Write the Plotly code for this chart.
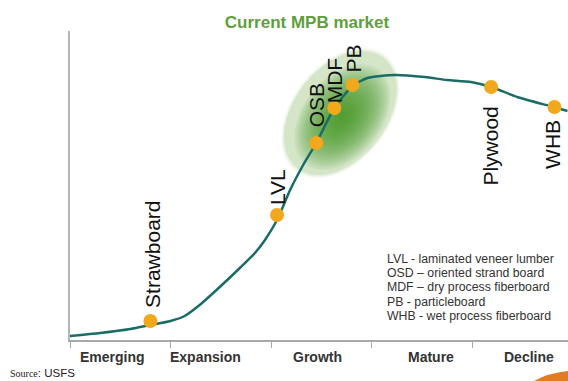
import numpy as np
import plotly.graph_objects as go

# Market life-cycle stages along the x axis (one unit per stage)
stages = ["Emerging", "Expansion", "Growth", "Mature", "Decline"]
stage_label_x = [0.42, 1.35, 2.46, 3.59, 4.57]

# Life-cycle curve
curve_x = [0, 0.30, 0.60, 0.80, 1.00, 1.14, 1.29, 1.49, 1.69, 1.84, 1.94, 2.06,
           2.19, 2.32, 2.45, 2.63, 2.81, 2.96, 3.23, 3.53, 3.75, 3.99, 4.19,
           4.45, 4.81, 4.95]
curve_y = [4, 7, 11, 15, 19, 24, 35, 53, 72, 87, 100, 120,
           150, 175, 197, 232, 254, 262, 265, 263, 260, 258, 253,
           243, 233, 229]

# Products placed on the curve
products = ["Strawboard", "LVL", "OSB", "MDF", "PB", "Plywood", "WHB"]
product_x = [0.80, 2.06, 2.45, 2.63, 2.81, 4.19, 4.82]
product_y = [19, 125, 197, 232, 255, 253, 233]

legend_lines = [
    "LVL - laminated veneer lumber",
    "OSD \u2013 oriented strand board",
    "MDF \u2013 dry process fiberboard",
    "PB - particleboard",
    "WHB - wet process fiberboard",
]

# Label placement (pixels): side of the dot, gap, horizontal nudge
label_side = ["above", "above", "above", "above", "above", "below", "below"]
label_gap = [11, 8, 14, 3, 11, 18, 11]
label_dx = [2, 0, 0, 0, 1, -1, -2]

X_RANGE = [0, 4.955]
Y_RANGE = [0, 309]
PX_PER_X = 498 / (X_RANGE[1] - X_RANGE[0])

TEAL = "#1b6c67"
ORANGE = "#F2A81D"
FONT = "Liberation Sans, Arial, sans-serif"

fig = go.Figure()

# "Current MPB market" highlight: soft green ellipse made of stacked layers
cx, cy = 2.69, 227          # centre in data units
a_px, b_px, ang = 70, 46, np.deg2rad(52)
t = np.linspace(0, 2 * np.pi, 72)


def ellipse_path(scale, ox=0.0, oy=0.0):
    ex = a_px * scale * np.cos(t)
    ey = b_px * scale * np.sin(t)
    dx = ex * np.cos(ang) - ey * np.sin(ang)
    dy = ex * np.sin(ang) + ey * np.cos(ang)
    xs = cx + (dx + ox) / PX_PER_X
    ys = cy + dy + oy
    pts = " L ".join(f"{x:.4f},{y:.2f}" for x, y in zip(xs, ys))
    return f"M {pts} Z"


shapes = []
for s, al in [(1.05, 0.07), (1.025, 0.09), (1.0, 0.16)]:
    shapes.append(dict(type="path", path=ellipse_path(s), xref="x", yref="y",
                       fillcolor=f"rgba(110,170,70,{al})", line_width=0,
                       layer="below"))
n_inner = 22
for i in range(n_inner):
    s = 0.85 - 0.8 * i / (n_inner - 1)
    shapes.append(dict(type="path", path=ellipse_path(s, 2, -4), xref="x",
                       yref="y", fillcolor="rgba(70,145,40,0.085)",
                       line_width=0, layer="below"))

# small orange swoosh in the lower-right corner
def paper_pt(px, py):
    return f"{(px - 70) / 498:.4f},{(340 - py) / 309:.4f}"


shapes.append(dict(
    type="path", xref="paper", yref="paper",
    path=(f"M {paper_pt(534, 381)} Q {paper_pt(548, 373)} {paper_pt(568, 371)}"
          f" L {paper_pt(568, 381)} Z"),
    fillcolor="#E27B22", line_width=0))

fig.add_trace(go.Scatter(
    x=curve_x, y=curve_y, mode="lines",
    line=dict(color=TEAL, width=2.5, shape="spline", smoothing=0.6),
    hoverinfo="skip", showlegend=False, cliponaxis=True))

fig.add_trace(go.Scatter(
    x=product_x, y=product_y, mode="markers", text=products,
    marker=dict(color=ORANGE, size=14, line_width=0),
    hoverinfo="text", showlegend=False))

annotations = []
for name, x, y, side, gap, dx in zip(products, product_x, product_y,
                                      label_side, label_gap, label_dx):
    above = side == "above"
    annotations.append(dict(
        x=x, y=y, xref="x", yref="y", text=name, showarrow=False,
        textangle=-90, font=dict(family=FONT, size=21, color="#111111"),
        xanchor="center", yanchor="bottom" if above else "top",
        yshift=gap if above else -gap, xshift=dx))

for name, x in zip(stages, stage_label_x):
    annotations.append(dict(
        x=x, y=0, xref="x", yref="paper", text=f"<b>{name}</b>",
        showarrow=False, yanchor="top", yshift=-7,
        font=dict(family=FONT, size=14, color="#333333")))

for i, line in enumerate(legend_lines):
    annotations.append(dict(
        x=(385 - 70) / 498, y=(340 - (259 + 14.2 * i)) / 309,
        xref="paper", yref="paper", text=line, showarrow=False,
        xanchor="left", yanchor="middle",
        font=dict(family=FONT, size=12.3, color="#333333")))

annotations.append(dict(
    x=(9 - 70) / 498, y=(340 - 373) / 309, xref="paper", yref="paper",
    text=("<span style='font-family:Liberation Serif, Times New Roman, serif;"
          "font-size:10px'>Source</span>: USFS"),
    showarrow=False, xanchor="left", yanchor="middle", borderpad=0,
    font=dict(family=FONT, size=11.5, color="#222222")))

fig.update_layout(
    width=568, height=381,
    margin=dict(l=70, r=0, t=31, b=41),
    paper_bgcolor="white", plot_bgcolor="white",
    title=dict(text="<b>Current MPB market</b>", xref="paper",
               x=(307 - 70) / 498, xanchor="center",
               yref="container", y=1 - 22 / 381, yanchor="middle",
               font=dict(family=FONT, size=17, color="#5f9f3d")),
    xaxis=dict(range=X_RANGE, showgrid=False, zeroline=False,
               showline=True, linecolor="#a8a8a8", linewidth=2,
               tickvals=[0, 1, 2, 3, 4], ticktext=[""] * 5,
               ticks="outside", ticklen=6, tickcolor="#a8a8a8",
               tickwidth=1, fixedrange=True),
    yaxis=dict(range=Y_RANGE, showgrid=False, zeroline=False,
               showline=True, linecolor="#b4b4b4", linewidth=1.5,
               showticklabels=False, ticks="", fixedrange=True),
    shapes=shapes, annotations=annotations,
)

fig.write_html("out.html", config={"displayModeBar": False})
